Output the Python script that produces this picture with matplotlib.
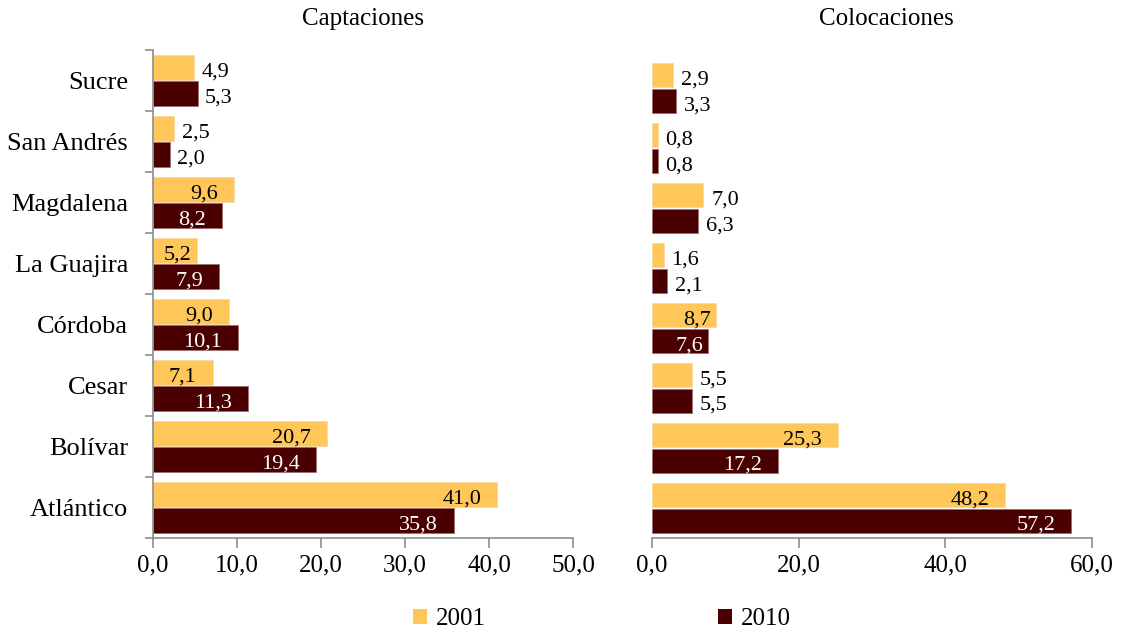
import matplotlib
matplotlib.use("Agg")
import matplotlib.pyplot as plt
from matplotlib.ticker import FuncFormatter, FixedLocator
from matplotlib.patches import Patch
import numpy as np

plt.rcParams['font.family'] = ['Liberation Serif', 'DejaVu Serif']

categories = ["Atlántico", "Bolívar", "Cesar", "Córdoba", "La Guajira", "Magdalena", "San Andrés", "Sucre"]
capt_2001 = [41.0, 20.7, 7.1, 9.0, 5.2, 9.6, 2.5, 4.9]
capt_2010 = [35.8, 19.4, 11.3, 10.1, 7.9, 8.2, 2.0, 5.3]
coloc_2001 = [48.2, 25.3, 5.5, 8.7, 1.6, 7.0, 0.8, 2.9]
coloc_2010 = [57.2, 17.2, 5.5, 7.6, 2.1, 6.3, 0.8, 3.3]
series_names = ["2001", "2010"]

c2001 = "#FFC75A"
c2010 = "#4A0000"
grey = "#8C8C8C"

fig = plt.figure(figsize=(11.25, 6.33), dpi=100)
ax1 = fig.add_axes([0.136, 0.150, 0.3733, 0.771])
ax2 = fig.add_axes([0.5796, 0.150, 0.391, 0.758])

fmt = FuncFormatter(lambda v, p: f"{v:.1f}".replace(".", ","))
y = np.arange(len(categories))
off = 0.215
h = 0.40
lab_fs = 16

def draw(ax, v1, v2, xmax, step, thr1, thr2, clamp, show_y):
    ax.barh(y + off, v1, height=h, color=c2001, edgecolor="#F2D9A0", linewidth=0.5)
    ax.barh(y - off, v2, height=h, color=c2010, edgecolor="#9A6A6A", linewidth=0.5)
    for yy, vals, thr, col_in in [(y + off, v1, thr1, "black"), (y - off, v2, thr2, "white")]:
        for yi, v in zip(yy, vals):
            s = f"{v:.1f}".replace(".", ",")
            if v >= thr:
                dx = -11.5 if v >= clamp else -3.5
                ax.annotate(s, (v, yi), xytext=(dx, -6.5), textcoords="offset points",
                            ha="right", va="baseline", fontsize=lab_fs, color=col_in)
            else:
                ax.annotate(s, (v, yi), xytext=(5.5, -6.5), textcoords="offset points",
                            ha="left", va="baseline", fontsize=lab_fs, color="black")
    ax.set_xlim(0, xmax)
    ax.set_ylim(-0.5, len(categories) - 0.5)
    ax.set_xticks(np.arange(0, xmax + 0.01, step))
    ax.xaxis.set_major_formatter(fmt)
    ax.tick_params(axis="x", labelsize=18, color=grey, length=7, width=1.2, pad=5)
    for s in ["top", "right"]:
        ax.spines[s].set_visible(False)
    ax.spines["bottom"].set_color(grey)
    ax.spines["bottom"].set_linewidth(1.2)
    if show_y:
        ax.spines["left"].set_color(grey)
        ax.spines["left"].set_linewidth(1.2)
        ax.set_yticks(y)
        ax.set_yticklabels(categories, fontsize=19)
        ax.tick_params(axis="y", which="major", length=0, pad=18)
        ax.yaxis.set_minor_locator(FixedLocator(np.arange(-0.5, len(categories), 1.0)))
        ax.tick_params(axis="y", which="minor", length=6, color=grey, width=1.2)
    else:
        ax.spines["left"].set_visible(False)
        ax.set_yticks([])

draw(ax1, capt_2001, capt_2010, 50, 10, 5.0, 6.0, 6.0, True)
draw(ax2, coloc_2001, coloc_2010, 60, 20, 7.5, 7.5, 10.0, False)

fig.text(0.3227, 0.970, "Captaciones", ha="center", va="center", fontsize=18)
fig.text(0.788, 0.970, "Colocaciones", ha="center", va="center", fontsize=18)

handles = [Patch(facecolor=c2001), Patch(facecolor=c2010)]
fig.legend(handles, series_names, loc="center", bbox_to_anchor=(0.535, 0.022), ncol=2,
           frameon=False, fontsize=18, columnspacing=9.3, handlelength=0.55,
           handleheight=0.55, handletextpad=0.35)

fig.savefig("out.png", dpi=100)
